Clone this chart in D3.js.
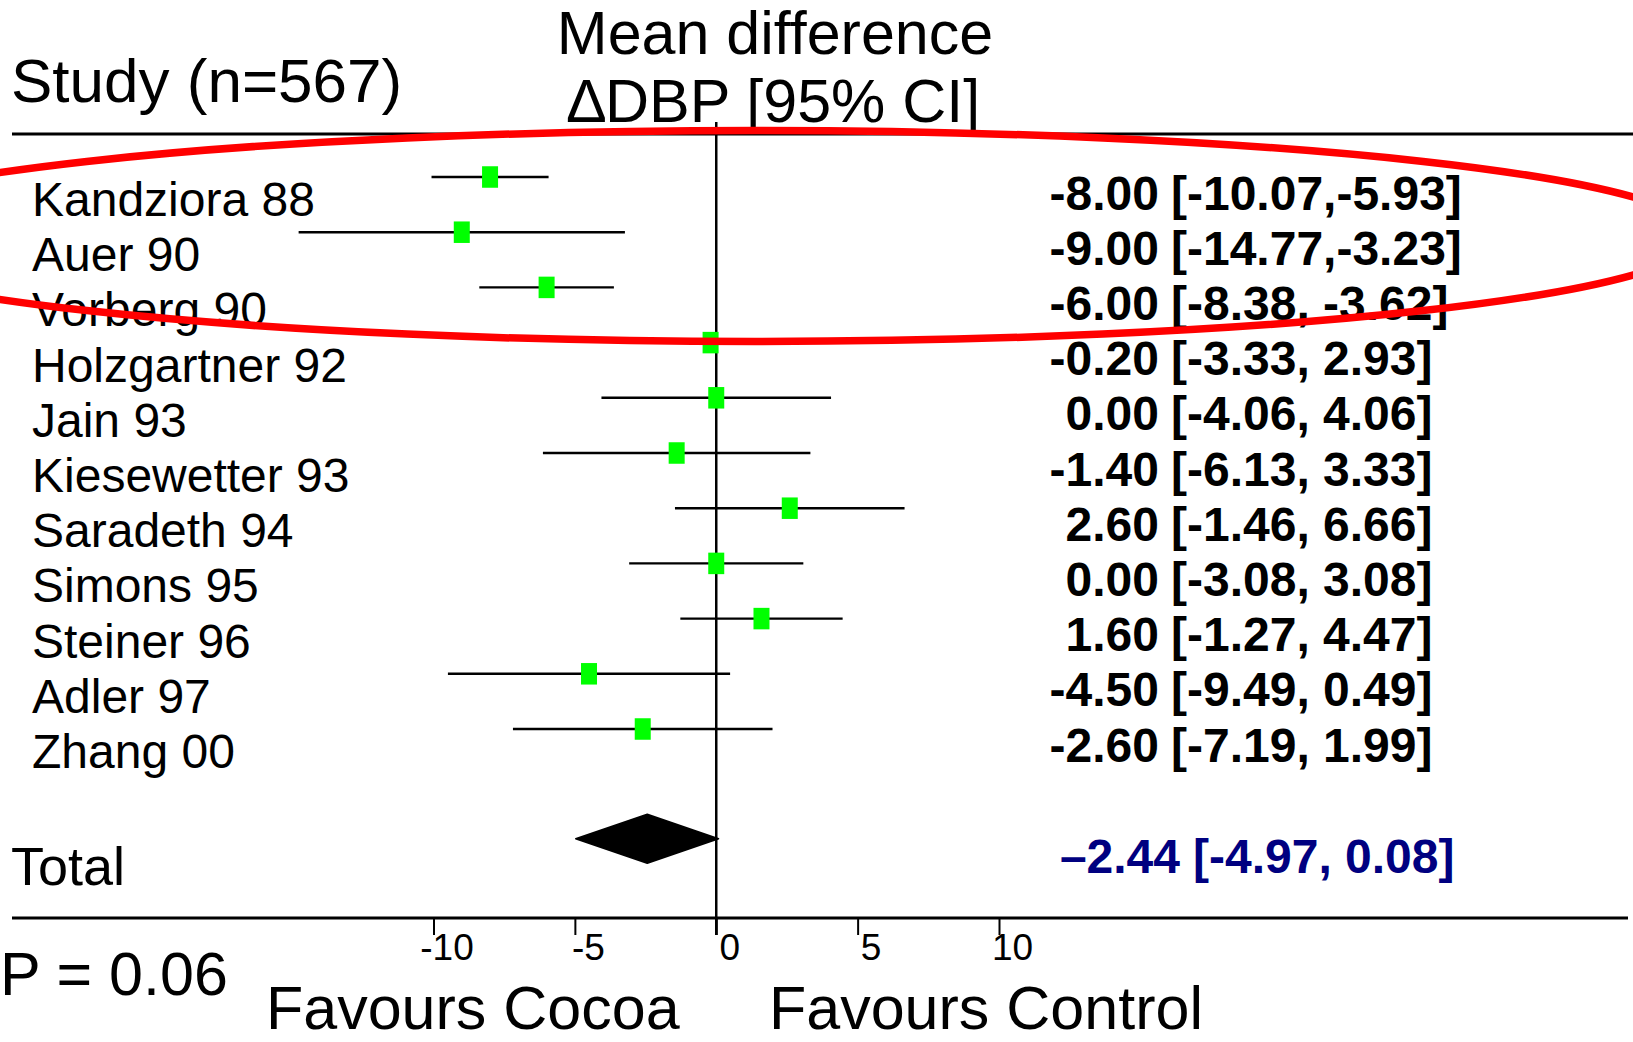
<!DOCTYPE html>
<html>
<head>
<meta charset="utf-8">
<script src="https://cdn.jsdelivr.net/npm/d3@7"></script>
<style>
  html, body { margin: 0; padding: 0; background: #fff; }
  svg { display: block; font-family: "Liberation Sans", Arial, Helvetica, sans-serif; }
</style>
</head>
<body>
<svg id="chart" width="1633" height="1042"></svg>
<script>
// Trials of cocoa vs control: change in diastolic blood pressure (mmHg)
const studies = ["Kandziora 88", "Auer 90", "Vorberg 90", "Holzgartner 92", "Jain 93",
                 "Kiesewetter 93", "Saradeth 94", "Simons 95", "Steiner 96", "Adler 97", "Zhang 00"];
const meanDiff = [-8.00, -9.00, -6.00, -0.20, 0.00, -1.40, 2.60, 0.00, 1.60, -4.50, -2.60];
const ciLower  = [-10.07, -14.77, -8.38, -3.33, -4.06, -6.13, -1.46, -3.08, -1.27, -9.49, -7.19];
const ciUpper  = [-5.93, -3.23, -3.62, 2.93, 4.06, 3.33, 6.66, 3.08, 4.47, 0.49, 1.99];
const ciSeparator = [",", ",", ", ", ", ", ", ", ", ", ", ", ", ", ", ", ", ", ", "];

// Pooled estimate
const pooledMean = -2.44;
const pooledLower = -4.97;
const pooledUpper = 0.08;

const axisTicks = [-10, -5, 0, 5, 10];
const pValue = "0.06";
const sampleSize = 567;

const W = 1633, H = 1042;
const svg = d3.select("#chart");

const x = d3.scaleLinear().domain([-10, 10]).range([433.5, 999]);
const rowY = d3.scaleLinear().domain([0, studies.length - 1]).range([177, 729]);
const totalY = 838.7;
const axisY = 918;
const fmt = d3.format(".2f");
const hyphen = s => s.replace("\u2212", "-");

// Column headers
svg.append("text").attr("x", 11).attr("y", 102)
  .attr("font-size", 62).text(`Study (n=${sampleSize})`);
svg.append("text").attr("x", 775).attr("y", 54).attr("text-anchor", "middle")
  .attr("font-size", 61).text("Mean difference");
svg.append("text").attr("x", 774).attr("y", 122).attr("text-anchor", "middle")
  .attr("font-size", 61).text("\u2206DBP [95% CI]");

// Rules above and below the table
svg.append("line").attr("x1", 12).attr("x2", W).attr("y1", 134).attr("y2", 134)
  .attr("stroke", "#000").attr("stroke-width", 3);
svg.append("line").attr("x1", 12).attr("x2", 1628).attr("y1", axisY).attr("y2", axisY)
  .attr("stroke", "#000").attr("stroke-width", 3);

// Line of no effect
svg.append("line").attr("x1", x(0)).attr("x2", x(0)).attr("y1", 122).attr("y2", 935)
  .attr("stroke", "#000").attr("stroke-width", 2.5);

// Axis ticks and labels
const axis = d3.axisBottom(x).tickValues(axisTicks).tickSize(17).tickSizeOuter(0)
  .tickFormat(d => String(d));
const gAxis = svg.append("g").attr("transform", `translate(0,${axisY})`).call(axis);
gAxis.select(".domain").remove();
gAxis.selectAll(".tick line").attr("stroke", "#000").attr("stroke-width", 2);
gAxis.selectAll(".tick text")
  .attr("font-family", "Liberation Sans, Arial, sans-serif")
  .attr("font-size", 37).attr("fill", "#000")
  .attr("text-anchor", "middle").attr("x", 13).attr("y", 42).attr("dy", 0);

// Study rows
const rows = svg.append("g").selectAll("g").data(studies).join("g");

rows.append("text")
  .attr("x", 32).attr("y", (d, i) => rowY(i) + 39)
  .attr("font-size", 48).text(d => d);

rows.append("line")
  .attr("x1", (d, i) => x(ciLower[i])).attr("x2", (d, i) => x(ciUpper[i]))
  .attr("y1", (d, i) => rowY(i)).attr("y2", (d, i) => rowY(i))
  .attr("stroke", "#000").attr("stroke-width", 2.4);

rows.append("rect")
  .attr("x", (d, i) => x(meanDiff[i]) - 8).attr("y", (d, i) => rowY(i) - 10.75)
  .attr("width", 16).attr("height", 21.5).attr("fill", "#00ff00");

rows.append("text")
  .attr("x", 1159).attr("y", (d, i) => rowY(i) + 32.5)
  .attr("text-anchor", "end").attr("font-size", 48).attr("font-weight", "bold")
  .text((d, i) => hyphen(fmt(meanDiff[i])));

rows.append("text")
  .attr("x", 1171).attr("y", (d, i) => rowY(i) + 32.5)
  .attr("font-size", 48).attr("font-weight", "bold")
  .text((d, i) => `[${hyphen(fmt(ciLower[i]))}${ciSeparator[i]}${hyphen(fmt(ciUpper[i]))}]`);

// Pooled estimate
svg.append("text").attr("x", 11).attr("y", 885).attr("font-size", 54).text("Total");

const diamond = [[pooledLower, totalY], [pooledMean, totalY - 24.5],
                 [pooledUpper, totalY], [pooledMean, totalY + 24.5]];
svg.append("path")
  .attr("d", d3.line().x(d => x(d[0])).y(d => d[1])(diamond) + "Z")
  .attr("fill", "#000").attr("stroke", "#000").attr("stroke-width", 1.5)
  .attr("stroke-linejoin", "round");

svg.append("text").attr("x", 1180).attr("y", 873)
  .attr("text-anchor", "end").attr("font-size", 48).attr("font-weight", "bold")
  .attr("fill", "#000080").text("\u2013" + fmt(Math.abs(pooledMean)));
svg.append("text").attr("x", 1193).attr("y", 873)
  .attr("font-size", 48).attr("font-weight", "bold").attr("fill", "#000080")
  .text(`[${hyphen(fmt(pooledLower))}, ${fmt(pooledUpper)}]`);

// Footer
svg.append("text").attr("x", 0).attr("y", 995).attr("font-size", 61).text(`P = ${pValue}`);
svg.append("text").attr("x", 266).attr("y", 1029).attr("font-size", 61).text("Favours Cocoa");
svg.append("text").attr("x", 769).attr("y", 1029).attr("font-size", 61).text("Favours Control");

// Highlight around the first three trials
svg.append("ellipse")
  .attr("cx", 755).attr("cy", 236).attr("rx", 945).attr("ry", 105.5)
  .attr("fill", "none").attr("stroke", "#ff0000").attr("stroke-width", 7.5);
</script>
</body>
</html>
